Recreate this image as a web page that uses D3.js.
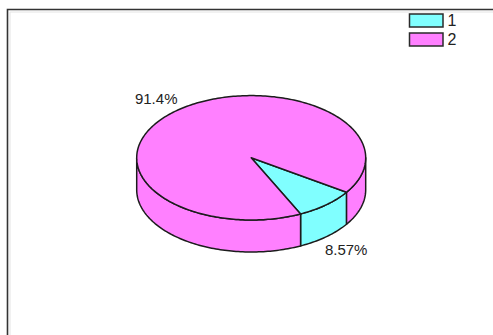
<!DOCTYPE html>
<html>
<head>
<meta charset="utf-8">
<script src="https://cdn.jsdelivr.net/npm/d3@7"></script>
<style>
  html, body { margin: 0; padding: 0; background: #ffffff; }
  svg { display: block; }
  text { font-family: "Liberation Sans", Arial, sans-serif; fill: #222; }
</style>
</head>
<body>
<svg id="chart" width="493" height="335"></svg>
<script>
// Category data
const categories = ["1", "2"];
const percentages = [8.57, 91.43];
const sliceColors = ["#80FFFF", "#FF80FF"];

const W = 493, H = 335;
const svg = d3.select("#chart");

// Panel frame (top and left edges only are visible)
svg.append("rect").attr("x", 0).attr("y", 0).attr("width", W).attr("height", H).attr("fill", "#ffffff");
svg.append("path")
  .attr("d", `M7.5,${H} V9.5 H${W}`)
  .attr("fill", "none").attr("stroke", "#333").attr("stroke-width", 1.6);
svg.append("path")
  .attr("d", `M10,${H} V12 H${W}`)
  .attr("fill", "none").attr("stroke", "#e4e4e4").attr("stroke-width", 1);

// Pie geometry: elliptical top face with a vertical wall
const cx = 251.2, cy = 157.8, rx = 114.5, ry = 62.2, depth = 32;
const startDeg = 123.6;

const pie = d3.pie().sort(null)
  .startAngle(startDeg * Math.PI / 180)
  .endAngle(startDeg * Math.PI / 180 + 2 * Math.PI);
const arcs = pie(percentages);

// Screen angle t is measured clockwise from 3 o'clock
const toT = a => a - Math.PI / 2;
const pt = (t, dy = 0, k = 1) => [cx + rx * k * Math.cos(t), cy + ry * k * Math.sin(t) + dy];
const samples = (t0, t1) => {
  const n = Math.max(2, Math.ceil(Math.abs(t1 - t0) / 0.02));
  return d3.range(n + 1).map(i => t0 + (t1 - t0) * i / n);
};
const line = d3.line();
const stroke = "#1c1c1c", sw = 1.5;

// Visible (front) portions of each slice's wall: t within [0, PI] mod 2PI
function frontRanges(t0, t1) {
  const out = [];
  for (let k = -1; k <= 2; k++) {
    const lo = Math.max(t0, k * 2 * Math.PI), hi = Math.min(t1, k * 2 * Math.PI + Math.PI);
    if (hi > lo) out.push([lo, hi]);
  }
  return out;
}

const walls = svg.append("g");
arcs.forEach((d, i) => {
  const t0 = toT(d.startAngle), t1 = toT(d.endAngle);
  frontRanges(t0, t1).forEach(([a, b]) => {
    const top = samples(a, b).map(t => pt(t));
    const bottom = samples(b, a).map(t => pt(t, depth));
    walls.append("path")
      .attr("d", line(top.concat(bottom)) + "Z")
      .attr("fill", sliceColors[i])
      .attr("stroke", stroke).attr("stroke-width", sw).attr("stroke-linejoin", "round");
  });
});

// Top faces
const tops = svg.append("g");
arcs.forEach((d, i) => {
  const t0 = toT(d.startAngle), t1 = toT(d.endAngle);
  const pts = [[cx, cy]].concat(samples(t0, t1).map(t => pt(t)));
  tops.append("path")
    .attr("d", line(pts) + "Z")
    .attr("fill", sliceColors[i])
    .attr("stroke", stroke).attr("stroke-width", sw).attr("stroke-linejoin", "round");
});

// Percentage labels outside each slice
const fmt = d3.format(".3r");
arcs.forEach((d, i) => {
  const tm = toT((d.startAngle + d.endAngle) / 2);
  const [x, y0] = pt(tm, 0, 1.265);
  const y = y0 + (Math.sin(tm) > 0 ? depth : 0);
  svg.append("text")
    .attr("x", x).attr("y", y)
    .attr("text-anchor", "middle").attr("dominant-baseline", "central")
    .attr("font-size", 15)
    .text(fmt(percentages[i]) + "%");
});

// Legend
const legend = svg.append("g").attr("transform", "translate(409.5,14)");
categories.forEach((c, i) => {
  const g = legend.append("g").attr("transform", `translate(0,${i * 19})`);
  g.append("rect").attr("width", 33.5).attr("height", 13)
    .attr("fill", sliceColors[i]).attr("stroke", "#2a2a2a").attr("stroke-width", 1.5);
  g.append("text").attr("x", 38).attr("y", 6.8)
    .attr("dominant-baseline", "central").attr("font-size", 16)
    .text(c);
});
</script>
</body>
</html>
